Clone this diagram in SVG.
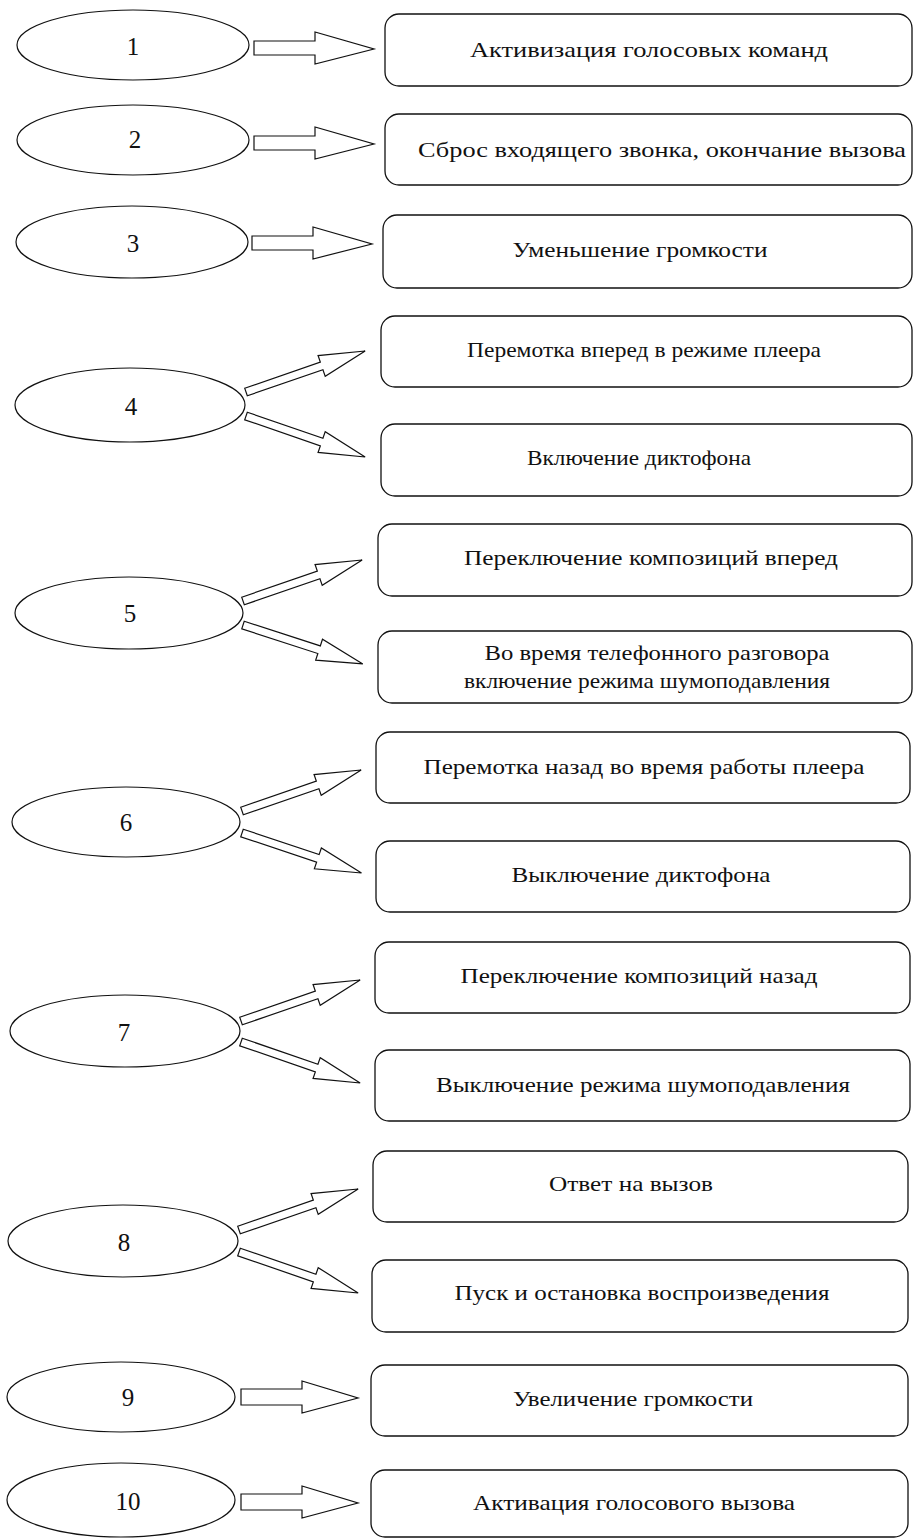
<svg xmlns="http://www.w3.org/2000/svg" xmlns:xlink="http://www.w3.org/1999/xlink" width="914" height="1539" viewBox="0 0 914 1539">
<style>
.bg{fill:#fff}
.el{fill:#fff;stroke:#111;stroke-width:1.2}
.bx{fill:#fff;stroke:#111;stroke-width:1.3}
.ar{fill:#fff;stroke:#111;stroke-width:1.2;stroke-linejoin:miter}
.num{font-family:"Liberation Serif","DejaVu Serif",serif;font-size:25px;fill:#111;text-anchor:middle}
.lbl{font-family:"Liberation Serif","DejaVu Serif",serif;font-size:21px;fill:#111;text-anchor:middle}
</style>
<defs>
<path id="harr" d="M0,-7 L61,-7 L61,-16 L120,1 L61,16 L61,7 L0,7 Z"/>
<path id="harr2" d="M0,-8 L61,-8 L61,-16 L117,1 L61,16 L61,8 L0,8 Z"/>
<path id="darr" d="M0,-4 L80,-4 L80,-11 L126,0 L80,11 L80,4 L0,4 Z"/>
</defs>
<rect class="bg" x="0" y="0" width="914" height="1539"/>

<g id="connectors">
<use href="#harr" class="ar" transform="translate(254,48)"/>
<use href="#harr" class="ar" transform="translate(254,143)"/>
<use href="#harr" class="ar" transform="translate(252,243)"/>
<use href="#darr" class="ar" transform="translate(246,392) rotate(-19)"/>
<use href="#darr" class="ar" transform="translate(246,416) rotate(19)"/>
<use href="#darr" class="ar" transform="translate(243,601) rotate(-19)"/>
<use href="#darr" class="ar" transform="translate(243,625) rotate(18)"/>
<use href="#darr" class="ar" transform="translate(242,811) rotate(-19)"/>
<use href="#darr" class="ar" transform="translate(242,833) rotate(18.5)"/>
<use href="#darr" class="ar" transform="translate(241,1021) rotate(-19)"/>
<use href="#darr" class="ar" transform="translate(241,1042) rotate(19)"/>
<use href="#darr" class="ar" transform="translate(239,1230) rotate(-19)"/>
<use href="#darr" class="ar" transform="translate(239,1252) rotate(19)"/>
<use href="#harr2" class="ar" transform="translate(241,1397)"/>
<use href="#harr2" class="ar" transform="translate(241,1502)"/>
</g>

<g id="n1"><ellipse class="el" cx="133" cy="45" rx="116" ry="35"/><text class="num" x="133" y="55">1</text></g>
<g id="n2"><ellipse class="el" cx="133" cy="140" rx="116" ry="35"/><text class="num" x="135" y="148">2</text></g>
<g id="n3"><ellipse class="el" cx="132" cy="242" rx="116" ry="36"/><text class="num" x="133" y="252">3</text></g>
<g id="n4"><ellipse class="el" cx="130" cy="405" rx="115" ry="37"/><text class="num" x="131" y="415">4</text></g>
<g id="n5"><ellipse class="el" cx="129" cy="613" rx="114" ry="36"/><text class="num" x="130" y="622">5</text></g>
<g id="n6"><ellipse class="el" cx="126" cy="822" rx="114" ry="35"/><text class="num" x="126" y="831">6</text></g>
<g id="n7"><ellipse class="el" cx="125" cy="1031" rx="115" ry="36"/><text class="num" x="124" y="1041">7</text></g>
<g id="n8"><ellipse class="el" cx="123" cy="1241" rx="115" ry="36"/><text class="num" x="124" y="1251">8</text></g>
<g id="n9"><ellipse class="el" cx="121" cy="1397" rx="114" ry="35"/><text class="num" x="128" y="1406">9</text></g>
<g id="n10"><ellipse class="el" cx="121" cy="1500" rx="114" ry="37"/><text class="num" x="128" y="1510">10</text></g>

<g id="b1"><rect class="bx" x="385" y="14" width="527" height="72" rx="14"/><text class="lbl" x="649" y="57" textLength="358" lengthAdjust="spacingAndGlyphs">Активизация голосовых команд</text></g>
<g id="b2"><rect class="bx" x="385" y="114" width="527" height="71" rx="14"/><text class="lbl" x="662" y="157" textLength="488" lengthAdjust="spacingAndGlyphs">Сброс входящего звонка, окончание вызова</text></g>
<g id="b3"><rect class="bx" x="383" y="215" width="529" height="73" rx="14"/><text class="lbl" x="640" y="257" textLength="255" lengthAdjust="spacingAndGlyphs">Уменьшение громкости</text></g>
<g id="b4a"><rect class="bx" x="381" y="316" width="531" height="71" rx="14"/><text class="lbl" x="644" y="357" textLength="354" lengthAdjust="spacingAndGlyphs">Перемотка вперед в режиме плеера</text></g>
<g id="b4b"><rect class="bx" x="381" y="424" width="531" height="72" rx="14"/><text class="lbl" x="639" y="465" textLength="224" lengthAdjust="spacingAndGlyphs">Включение диктофона</text></g>
<g id="b5a"><rect class="bx" x="378" y="524" width="534" height="72" rx="14"/><text class="lbl" x="651" y="565" textLength="374" lengthAdjust="spacingAndGlyphs">Переключение композиций вперед</text></g>
<g id="b5b"><rect class="bx" x="378" y="631" width="534" height="72" rx="14"/><text class="lbl" x="657" y="660" textLength="345" lengthAdjust="spacingAndGlyphs">Во время телефонного разговора</text><text class="lbl" x="647" y="688" textLength="366" lengthAdjust="spacingAndGlyphs">включение режима шумоподавления</text></g>
<g id="b6a"><rect class="bx" x="376" y="732" width="534" height="71" rx="14"/><text class="lbl" x="644" y="774" textLength="441" lengthAdjust="spacingAndGlyphs">Перемотка назад во время работы плеера</text></g>
<g id="b6b"><rect class="bx" x="376" y="841" width="534" height="71" rx="14"/><text class="lbl" x="641" y="882" textLength="259" lengthAdjust="spacingAndGlyphs">Выключение диктофона</text></g>
<g id="b7a"><rect class="bx" x="375" y="942" width="535" height="71" rx="14"/><text class="lbl" x="639" y="983" textLength="357" lengthAdjust="spacingAndGlyphs">Переключение композиций назад</text></g>
<g id="b7b"><rect class="bx" x="375" y="1050" width="535" height="71" rx="14"/><text class="lbl" x="643" y="1092" textLength="414" lengthAdjust="spacingAndGlyphs">Выключение режима шумоподавления</text></g>
<g id="b8a"><rect class="bx" x="373" y="1151" width="535" height="71" rx="14"/><text class="lbl" x="631" y="1191" textLength="164" lengthAdjust="spacingAndGlyphs">Ответ на вызов</text></g>
<g id="b8b"><rect class="bx" x="372" y="1260" width="536" height="72" rx="14"/><text class="lbl" x="642" y="1300" textLength="375" lengthAdjust="spacingAndGlyphs">Пуск и остановка воспроизведения</text></g>
<g id="b9"><rect class="bx" x="371" y="1365" width="537" height="71" rx="14"/><text class="lbl" x="633" y="1406" textLength="240" lengthAdjust="spacingAndGlyphs">Увеличение громкости</text></g>
<g id="b10"><rect class="bx" x="371" y="1470" width="537" height="67" rx="14"/><text class="lbl" x="634" y="1510" textLength="322" lengthAdjust="spacingAndGlyphs">Активация голосового вызова</text></g>
</svg>
